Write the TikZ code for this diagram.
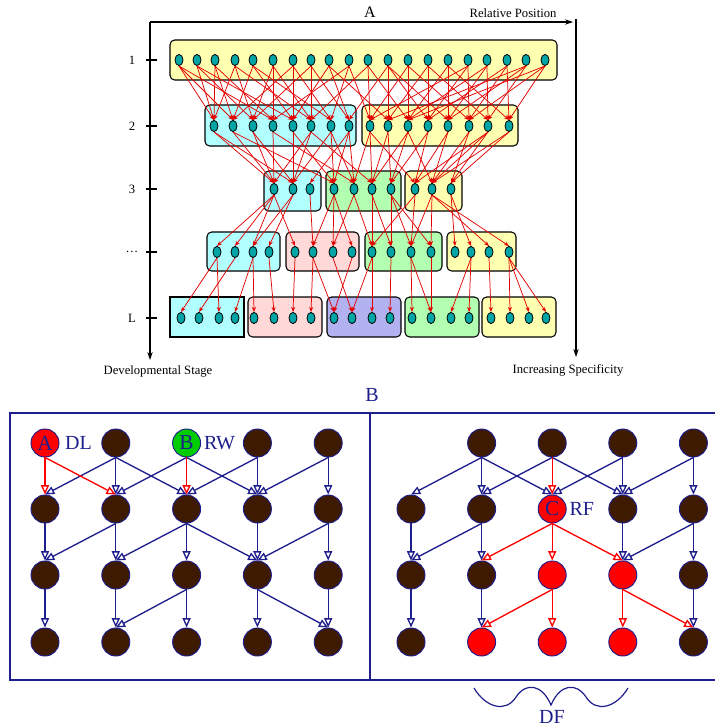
\documentclass[tikz,border=0pt]{standalone}
\usepackage{fontspec}
\setmainfont{Liberation Serif}
\usetikzlibrary{shapes.geometric, arrows.meta, positioning}

\definecolor{cellteal}{RGB}{0,166,166}
\definecolor{boxyellow}{RGB}{255,255,178}
\definecolor{boxcyan}{RGB}{178,255,255}
\definecolor{boxgreen}{RGB}{178,255,178}
\definecolor{boxpink}{RGB}{255,216,216}
\definecolor{boxblue}{RGB}{178,178,240}
\definecolor{navy}{RGB}{30,30,140}
\definecolor{darkbrown}{RGB}{61,26,0}
\definecolor{leafgreen}{RGB}{0,204,0}

\begin{document}
\begin{tikzpicture}[
  x=0.75pt, y=-0.75pt,
  axis/.style={line width=0.8pt, -{Stealth[length=6pt, width=4pt]}},
  axistext/.style={font=\fontsize{9.5}{11}\selectfont, inner sep=1pt},
  layer/.style={draw, line width=0.8pt, rounded corners=3.5pt},
  cell/.style={ellipse, draw, line width=0.6pt, fill=cellteal, minimum width=6pt, minimum height=8.4pt, inner sep=0pt},
  feed/.style={red!90!black, line width=0.55pt, -{Stealth[length=3.8pt, width=3pt]}},
  ball/.style={circle, draw=navy, line width=0.7pt, fill=darkbrown, minimum size=21pt, inner sep=0pt, text=navy, font=\fontsize{16}{16}\selectfont},
  brn/.style={},
  hot/.style={fill=red},
  grn/.style={fill=leafgreen},
  tag/.style={text=navy, inner sep=1pt, font=\fontsize{15}{15}\selectfont},
  flow/.style={navy, line width=1pt, -{Triangle[open, length=7pt, width=6pt]}},
  hotflow/.style={flow, red},
  panel/.style={navy, line width=1.1pt}
]
\useasboundingbox (0,0) rectangle (714,728);

% part A: axes
\coordinate (origin) at (150,22);
\coordinate (stageend) at (150,360);
\coordinate (posend) at (573,22);
\coordinate (spectop) at (576,19);
\coordinate (specend) at (576,357);
\draw[axis] (origin) -- (stageend);
\draw[axis] (origin) -- (posend);
\draw[axis] (spectop) -- (specend);
\node[font=\fontsize{12}{14}\selectfont] (parta) at (370,12) {A};
\node[axistext] (relpos) at (513,13) {Relative Position};
\node[axistext] (devstage) at (158,371) {Developmental Stage};
\node[axistext] (incspec) at (568,370) {Increasing Specificity};
\foreach \y/\t [count=\k] in {60/1,126/2,189/3,252/\ldots,318/L} {
  \draw[line width=0.8pt] (146,\y) -- (157,\y);
  \node[axistext] (stage\k) at (132,\y) {\t};
}

% layer boxes
\draw[layer, fill=boxyellow] (170,40) rectangle (557,80);
\draw[layer, fill=boxcyan] (205,105) rectangle (356,146);
\draw[layer, fill=boxyellow] (362,105) rectangle (518,146);
\draw[layer, fill=boxcyan] (264,171) rectangle (321,211);
\draw[layer, fill=boxgreen] (326,171) rectangle (401,211);
\draw[layer, fill=boxyellow] (405,171) rectangle (462,211);
\draw[layer, fill=boxcyan] (207,232) rectangle (280,271);
\draw[layer, fill=boxpink] (286,232) rectangle (359,271);
\draw[layer, fill=boxgreen] (365,232) rectangle (442,271);
\draw[layer, fill=boxyellow] (447,232) rectangle (516,271);
\draw[layer, sharp corners, fill=boxcyan] (170,297) rectangle (244,337);
\draw[layer, fill=boxpink] (248,297) rectangle (322,337);
\draw[layer, fill=boxblue] (327,297) rectangle (401,337);
\draw[layer, fill=boxgreen] (405,297) rectangle (479,337);
\draw[layer, fill=boxyellow] (482,297) rectangle (556,337);

% cells
\foreach \x [count=\i] in {179,197,215,235,253,273,293,311,329,349,368,388,408,428,448,468,487,507,526,545}
  \node[cell] (top\i) at (\x,60) {};
\foreach \x [count=\i] in {214,233,253,273,293,311,331,349,370,388,408,428,448,469,488,509}
  \node[cell] (sec\i) at (\x,126) {};
\foreach \x [count=\i] in {274,293,310,334,354,372,391,415,432,451}
  \node[cell] (thr\i) at (\x,189) {};
\foreach \x [count=\i] in {217,235,253,269,295,313,333,352,372,391,411,431,455,471,489,509}
  \node[cell] (mid\i) at (\x,252) {};
\foreach \x [count=\i] in {181,199,219,235,254,274,293,311,334,352,372,390,412,431,451,469,491,510,529,546}
  \node[cell] (bot\i) at (\x,318) {};

% projections
\foreach \a/\b in {1/1,1/2,1/4, 2/1,2/3,2/5, 3/1,3/2,3/4, 4/1,4/3,4/6, 5/2,5/5,5/7, 6/3,6/4,6/6,
    7/2,7/5,7/7, 8/3,8/6,8/8, 9/5,9/8,9/10, 10/4,10/7,10/9, 11/6,11/9,11/11, 12/8,12/10,12/12,12/13,
    13/9,13/11,13/14, 14/10,14/12,14/15, 15/11,15/13,15/16, 16/9,16/12,16/14, 17/11,17/13,17/15,
    18/12,18/14,18/16, 19/10,19/13,19/15, 20/11,20/14,20/16}
  \draw[feed] (top\a.south) -- (sec\b.north);
\foreach \a/\b in {1/1,1/2, 2/1,2/4, 3/1,3/2, 4/1,4/5, 5/2,5/4, 6/1,6/2,6/6, 7/2,7/4,7/5, 8/3,8/4,8/5,
    9/5,9/6,9/8, 10/6,10/7, 11/6,11/7,11/9, 12/7,12/8, 13/8,13/9, 14/9,14/10, 15/8,15/9,15/10, 16/9,16/10}
  \draw[feed] (sec\a.south) -- (thr\b.north);
\foreach \a/\b in {1/1,1/2,1/3,1/5, 2/3,2/4, 3/6, 4/6,4/7,4/8, 5/7,5/9, 6/9,6/10, 7/10,7/11,7/12,
    8/9,8/11, 9/11,9/12,9/15,9/16, 10/13,10/14}
  \draw[feed] (thr\a.south) -- (mid\b.north);
\foreach \a/\b in {1/1,1/3, 2/2, 3/4,3/5, 4/6, 5/7, 6/8,6/9, 7/10, 8/9, 9/10,9/11, 10/12, 11/13,11/14,
    12/14, 14/15,14/16, 15/17, 16/18,16/19,16/20}
  \draw[feed] (mid\a.south) -- (bot\b.north);

% part B
\node[tag] (partb) at (372,395) {B};
\draw[panel] (10,413) rectangle (370,680);
\draw[panel] (370,413) rectangle (716,680);

\foreach \r/\y/\cols in {
    1/443/{1/hot/A,2/brn/{},3/grn/B,4/brn/{},5/brn/{}},
    2/509/{1/brn/{},2/brn/{},3/brn/{},4/brn/{},5/brn/{}},
    3/575/{1/brn/{},2/brn/{},3/brn/{},4/brn/{},5/brn/{}},
    4/642/{1/brn/{},2/brn/{},3/brn/{},4/brn/{},5/brn/{}}}
  \foreach \c/\st/\txt in \cols
    \node[ball, \st] (lg\r\c) at ({45+70.8*(\c-1)},\y) {\txt};
\foreach \r/\y/\cols in {
    1/443/{2/brn/{},3/brn/{},4/brn/{},5/brn/{}},
    2/509/{1/brn/{},2/brn/{},3/hot/C,4/brn/{},5/brn/{}},
    3/575/{1/brn/{},2/brn/{},3/hot/{},4/hot/{},5/brn/{}},
    4/642/{1/brn/{},2/hot/{},3/hot/{},4/hot/{},5/brn/{}}}
  \foreach \c/\st/\txt in \cols
    \node[ball, \st] (rg\r\c) at ({411+70.6*(\c-1)},\y) {\txt};

\node[tag, right=3pt of lg11] (dl) {DL};
\node[tag, right=1pt of lg13] (rw) {RW};
\node[tag, right=1pt of rg23] (rf) {RF};

\foreach \a/\b in {12/21,12/22,12/23,13/22,13/24,14/23,14/24,15/24,15/25,
    21/31,22/31,22/32,23/32,23/33,23/34,24/34,25/34,25/35,
    31/41,32/42,33/42,33/43,34/44,34/45,35/45}
  \draw[flow] (lg\a.south) -- (lg\b.north);
\foreach \a/\b in {11/21,11/22,13/23}
  \draw[hotflow] (lg\a.south) -- (lg\b.north);

\foreach \a/\b in {12/21,12/22,12/23,13/22,13/24,14/23,14/24,15/24,15/25,
    21/31,22/31,22/32,24/34,25/34,25/35, 31/41,32/42,35/45}
  \draw[flow] (rg\a.south) -- (rg\b.north);
\foreach \a/\b in {13/23, 23/32,23/33,23/34, 33/42,33/43,34/44,34/45}
  \draw[hotflow] (rg\a.south) -- (rg\b.north);

% brace under the red field
\draw[navy, line width=0.9pt] (474,688) .. controls (486,708) and (506,713) .. (516,697)
  .. controls (526,682) and (542,684) .. (551,705)
  .. controls (560,684) and (576,682) .. (586,697)
  .. controls (596,713) and (616,708) .. (628,688);
\node[tag] (df) at (552,717) {DF};
\end{tikzpicture}
\end{document}
